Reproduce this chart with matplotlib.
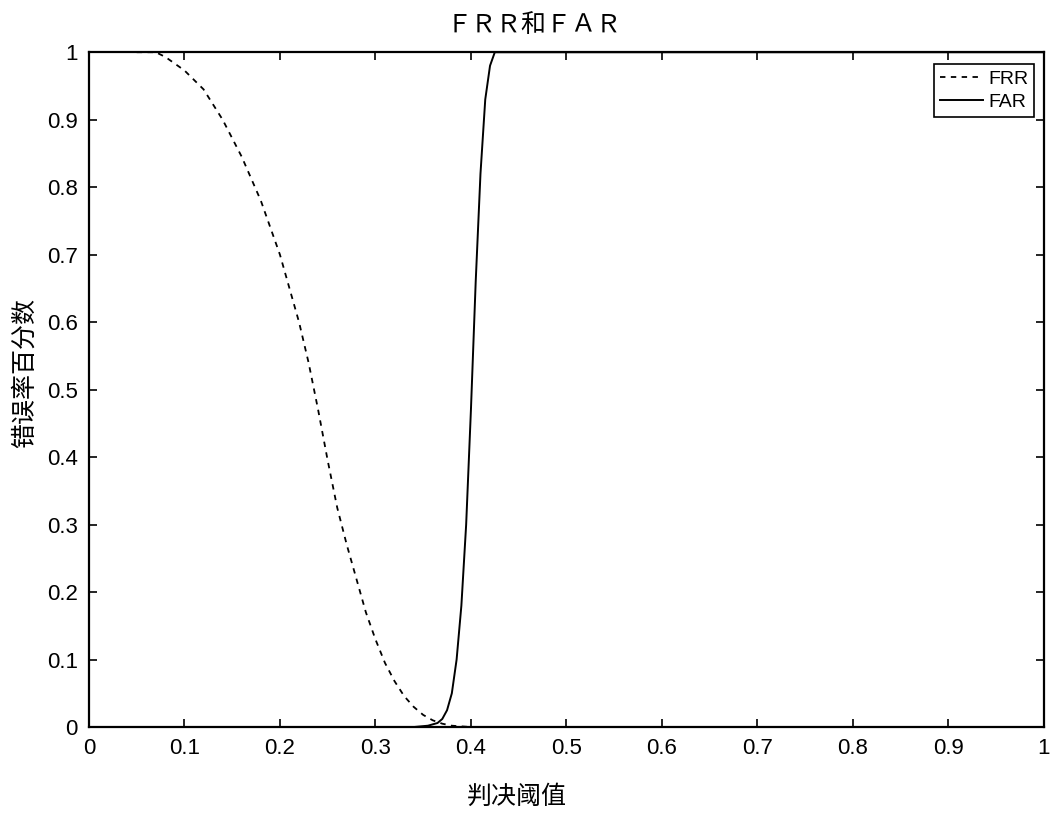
import matplotlib
matplotlib.use("Agg")
import matplotlib.pyplot as plt

# threshold vs. error rate
frr_x = [0.05, 0.07, 0.08, 0.10, 0.12, 0.14, 0.16, 0.18, 0.20, 0.22, 0.23,
         0.24, 0.25, 0.26, 0.27, 0.28, 0.29, 0.30, 0.31, 0.32, 0.33, 0.34,
         0.35, 0.36, 0.37, 0.38, 0.39, 0.40]
frr_y = [1.0, 1.0, 0.993, 0.973, 0.945, 0.90, 0.845, 0.78, 0.70, 0.60, 0.54,
         0.47, 0.395, 0.325, 0.27, 0.22, 0.17, 0.13, 0.095, 0.068, 0.046, 0.030,
         0.018, 0.010, 0.005, 0.002, 0.001, 0.0]

far_x = [0.30, 0.34, 0.355, 0.365, 0.37, 0.375, 0.38, 0.385, 0.39, 0.395,
         0.40, 0.405, 0.41, 0.415, 0.42, 0.425, 0.43, 1.0]
far_y = [0.0, 0.0, 0.002, 0.006, 0.012, 0.025, 0.05, 0.10, 0.18, 0.30,
         0.47, 0.66, 0.82, 0.93, 0.98, 1.0, 1.0, 1.0]

ticks = [0, 0.1, 0.2, 0.3, 0.4, 0.5, 0.6, 0.7, 0.8, 0.9, 1]
tick_labels = ["0", "0.1", "0.2", "0.3", "0.4", "0.5", "0.6", "0.7", "0.8", "0.9", "1"]

cjk = ["Noto Sans CJK SC", "DejaVu Sans"]
plt.rcParams["font.family"] = ["Liberation Sans", "DejaVu Sans"]

fig = plt.figure(figsize=(10.54, 8.16), dpi=100)
ax = fig.add_axes([0.0844, 0.109, 0.906, 0.827])

ax.plot(frr_x, frr_y, color="black", lw=1.3, linestyle=(0, (3, 3)), label="FRR")
ax.plot(far_x, far_y, color="black", lw=1.4, label="FAR")

ax.set_xlim(0, 1)
ax.set_ylim(0, 1)
ax.set_xticks(ticks)
ax.set_xticklabels(tick_labels)
ax.set_yticks(ticks)
ax.set_yticklabels(tick_labels)
ax.tick_params(direction="in", length=6, width=1.2, top=True, right=True,
               labelsize=16, pad=8, colors="black")
for s in ax.spines.values():
    s.set_linewidth(1.6)

leg = ax.legend(loc="upper right", bbox_to_anchor=(0.99, 0.982), fontsize=14,
                fancybox=False, framealpha=1, edgecolor="black",
                handlelength=2.2, handletextpad=0.3, borderpad=0.3,
                labelspacing=0.3, borderaxespad=0)
leg.get_frame().set_linewidth(1.2)

fig.text(0.507, 0.969, "ＦＲＲ和ＦＡＲ", ha="center", va="center",
         fontsize=18, family=cjk)
fig.text(0.49, 0.023, "判决阈值", ha="center", va="center",
         fontsize=18, family=cjk)
fig.text(0.024, 0.543, "错误率百分数", ha="center", va="center",
         rotation=90, fontsize=18, family=cjk)

fig.savefig("out.png", dpi=100, facecolor="white")
